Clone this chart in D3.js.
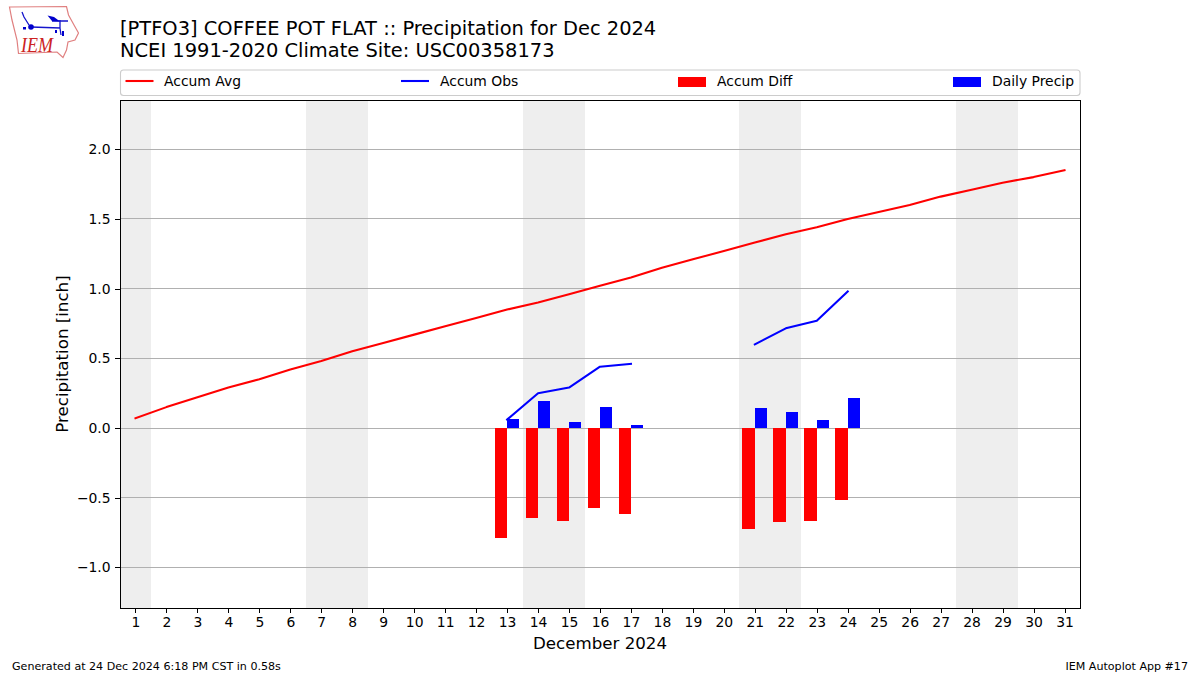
<!DOCTYPE html>
<html>
<head>
<meta charset="utf-8">
<script src="https://cdn.jsdelivr.net/npm/d3@7"></script>
<style>
html, body { margin: 0; padding: 0; background: #fff; }
text { font-family: "DejaVu Sans", sans-serif; fill: #000; }
</style>
</head>
<body>
<div id="main"></div>
<script>
var days = d3.range(1, 32);
var accumAvg = [0.07, 0.15, 0.22, 0.29, 0.35, 0.42, 0.48, 0.55, 0.61, 0.67, 0.73, 0.79, 0.85, 0.90, 0.96, 1.02,
    1.08, 1.15, 1.21, 1.27, 1.33, 1.39, 1.44, 1.50, 1.55, 1.60, 1.66, 1.71, 1.76, 1.80, 1.85];
var obsDays = [13, 14, 15, 16, 17, 21, 22, 23, 24];
var accumObs = [0.06, 0.25, 0.29, 0.44, 0.46, 0.60, 0.715, 0.77, 0.98];
var accumDiff = [-0.788, -0.645, -0.667, -0.573, -0.616, -0.724, -0.674, -0.667, -0.516];
var dailyPrecip = [0.065, 0.194, 0.043, 0.151, 0.022, 0.143, 0.115, 0.057, 0.215];
var weekendDays = [1, 7, 8, 14, 15, 21, 22, 28, 29];
var yTicks = [-1, -0.5, 0, 0.5, 1, 1.5, 2];

var w = 1200;
var h = 675;
var left = 120, right = 1080, top_ = 100, bottom = 608;

var svg = d3.select("#main")
    .append("svg")
    .attr("width", w)
    .attr("height", h)
    .style("display", "block");

var x = d3.scaleLinear().domain([0.5, 31.5]).range([left, right]);
var y = d3.scaleLinear().domain([-1.2911, 2.3531]).range([bottom, top_]);

// weekend bands
svg.selectAll("rect.weekend")
    .data(weekendDays)
    .enter()
    .append("rect")
    .attr("class", "weekend")
    .attr("x", function(d) { return x(d - 0.5); })
    .attr("width", function(d) { return x(d + 0.5) - x(d - 0.5); })
    .attr("y", top_)
    .attr("height", bottom - top_)
    .attr("fill", "#eeeeee")
    .attr("shape-rendering", "crispEdges");

// grid
svg.selectAll("line.grid")
    .data(yTicks)
    .enter()
    .append("line")
    .attr("class", "grid")
    .attr("x1", left)
    .attr("x2", right)
    .attr("y1", function(d) { return Math.floor(y(d)) + 0.5; })
    .attr("y2", function(d) { return Math.floor(y(d)) + 0.5; })
    .attr("stroke", "#b0b0b0")
    .attr("stroke-width", 1);

// bars
svg.selectAll("rect.diff")
    .data(accumDiff)
    .enter()
    .append("rect")
    .attr("class", "diff")
    .attr("x", function(d, i) { return x(obsDays[i] - 0.4); })
    .attr("width", function(d, i) { return x(obsDays[i]) - x(obsDays[i] - 0.4); })
    .attr("y", y(0))
    .attr("height", function(d) { return y(d) - y(0); })
    .attr("fill", "#ff0000")
    .attr("shape-rendering", "crispEdges");

svg.selectAll("rect.daily")
    .data(dailyPrecip)
    .enter()
    .append("rect")
    .attr("class", "daily")
    .attr("x", function(d, i) { return x(obsDays[i]); })
    .attr("width", function(d, i) { return x(obsDays[i] + 0.4) - x(obsDays[i]); })
    .attr("y", function(d) { return y(d); })
    .attr("height", function(d) { return y(0) - y(d); })
    .attr("fill", "#0000ff")
    .attr("shape-rendering", "crispEdges");

// lines
var avgLine = d3.line()
    .x(function(d, i) { return x(days[i]); })
    .y(function(d) { return y(d); });

svg.append("path")
    .attr("d", avgLine(accumAvg))
    .attr("fill", "none")
    .attr("stroke", "#ff0000")
    .attr("stroke-width", 2.08)
    .attr("stroke-linejoin", "round")
    .attr("stroke-linecap", "square");

// obs line breaks where the days are not consecutive
var obsLine = d3.line()
    .defined(function(d, i) { return obsDays[i] < 18; })
    .x(function(d, i) { return x(obsDays[i]); })
    .y(function(d) { return y(d); });

var obsLine2 = d3.line()
    .defined(function(d, i) { return obsDays[i] > 18; })
    .x(function(d, i) { return x(obsDays[i]); })
    .y(function(d) { return y(d); });

[obsLine, obsLine2].forEach(function(l) {
    svg.append("path")
        .attr("d", l(accumObs))
        .attr("fill", "none")
        .attr("stroke", "#0000ff")
        .attr("stroke-width", 2.08)
        .attr("stroke-linejoin", "round")
        .attr("stroke-linecap", "square");
});

// axes
var xAxis = d3.axisBottom(x).tickValues(days).tickFormat(d3.format("d")).tickSize(4.9).tickPadding(4.5);
var yAxis = d3.axisLeft(y).tickValues(yTicks).tickFormat(d3.format(".1f")).tickSize(4.9).tickPadding(4.5);

var gx = svg.append("g").attr("transform", "translate(0," + bottom + ")").call(xAxis);
var gy = svg.append("g").attr("transform", "translate(" + left + ",0)").call(yAxis);
[gx, gy].forEach(function(g) {
    g.select(".domain").remove();
    g.selectAll("line").attr("stroke", "#000").attr("stroke-width", 1).attr("shape-rendering", "crispEdges");
    g.selectAll("text").style("font-size", "13.9px").style("font-family", "DejaVu Sans");
});

svg.append("rect")
    .attr("x", left + 0.5)
    .attr("y", top_ + 0.5)
    .attr("width", right - left)
    .attr("height", bottom - top_)
    .attr("fill", "none")
    .attr("stroke", "#000")
    .attr("stroke-width", 1);

// axis labels
svg.append("text")
    .attr("x", (left + right) / 2)
    .attr("y", 649)
    .attr("text-anchor", "middle")
    .style("font-size", "16.67px")
    .text("December 2024");

svg.append("text")
    .attr("transform", "translate(67.5,354) rotate(-90)")
    .attr("text-anchor", "middle")
    .style("font-size", "16.67px")
    .text("Precipitation [inch]");

// title
svg.append("text").attr("x", 120).attr("y", 35).style("font-size", "19.44px")
    .text("[PTFO3] COFFEE POT FLAT :: Precipitation for Dec 2024");
svg.append("text").attr("x", 120).attr("y", 57).style("font-size", "19.44px")
    .text("NCEI 1991-2020 Climate Site: USC00358173");

// footer
svg.append("text").attr("x", 12).attr("y", 670).style("font-size", "11.1px")
    .text("Generated at 24 Dec 2024 6:18 PM CST in 0.58s");
svg.append("text").attr("x", 1188).attr("y", 670).attr("text-anchor", "end").style("font-size", "11.1px")
    .text("IEM Autoplot App #17");

// legend
svg.append("rect")
    .attr("x", left + 0.5)
    .attr("y", 70)
    .attr("width", right - left - 0.5)
    .attr("height", 25.5)
    .attr("rx", 3)
    .attr("fill", "#fff")
    .attr("stroke", "#cccccc")
    .attr("stroke-width", 1.1);

var legendItems = [
    {label: "Accum Avg", color: "#ff0000", type: "line", hx: 125.5, tx: 164},
    {label: "Accum Obs", color: "#0000ff", type: "line", hx: 401, tx: 440},
    {label: "Accum Diff", color: "#ff0000", type: "bar", hx: 678, tx: 717},
    {label: "Daily Precip", color: "#0000ff", type: "bar", hx: 953, tx: 992}
];

legendItems.forEach(function(d) {
    if (d.type == "line") {
        svg.append("line")
            .attr("x1", d.hx).attr("x2", d.hx + 28)
            .attr("y1", 81).attr("y2", 81)
            .attr("stroke", d.color).attr("stroke-width", 2.08);
    } else {
        svg.append("rect")
            .attr("x", d.hx).attr("y", 77)
            .attr("width", 28).attr("height", 9.5)
            .attr("fill", d.color)
            .attr("shape-rendering", "crispEdges");
    }
    svg.append("text")
        .attr("x", d.tx).attr("y", 86)
        .style("font-size", "13.9px")
        .text(d.label);
});

// IEM logo
var logo = svg.append("g");
logo.append("path")
    .attr("d", "M9.5,7 L66.5,6.5 L68.5,15 L74,25 L78.5,33 L75,40 L68,42 L66.5,50 L63,57.5 L57,52 L18.5,53.5 L17,40 L12,20 Z")
    .attr("fill", "none")
    .attr("stroke", "#e08080")
    .attr("stroke-width", 1.2);
logo.append("path")
    .attr("d", "M31,27 L60,28 L60,20 M52,21 L68,21 M60,28 L61,35 M22,12 L24,17 L29,25")
    .attr("fill", "none")
    .attr("stroke", "#1515cc")
    .attr("stroke-width", 1.3);
logo.append("circle").attr("cx", 31).attr("cy", 27).attr("r", 2.8).attr("fill", "#0000cc");
logo.append("path").attr("d", "M47.5,15.5 L54,17 L60,21.5 L52,21 Z").attr("fill", "#0000cc");
logo.append("path").attr("d", "M55,30 h2 v3 h-2 Z M62,31 h2 v5 h-2 Z M23,27 h3 v2.5 h-3 Z").attr("fill", "#0000cc");
logo.append("text")
    .attr("x", 21)
    .attr("y", 52)
    .attr("textLength", 32)
    .attr("lengthAdjust", "spacingAndGlyphs")
    .style("font-family", "Liberation Serif")
    .style("font-style", "italic")
    .style("font-size", "22px")
    .style("fill", "#cc2222")
    .text("IEM");
</script>
</body>
</html>
